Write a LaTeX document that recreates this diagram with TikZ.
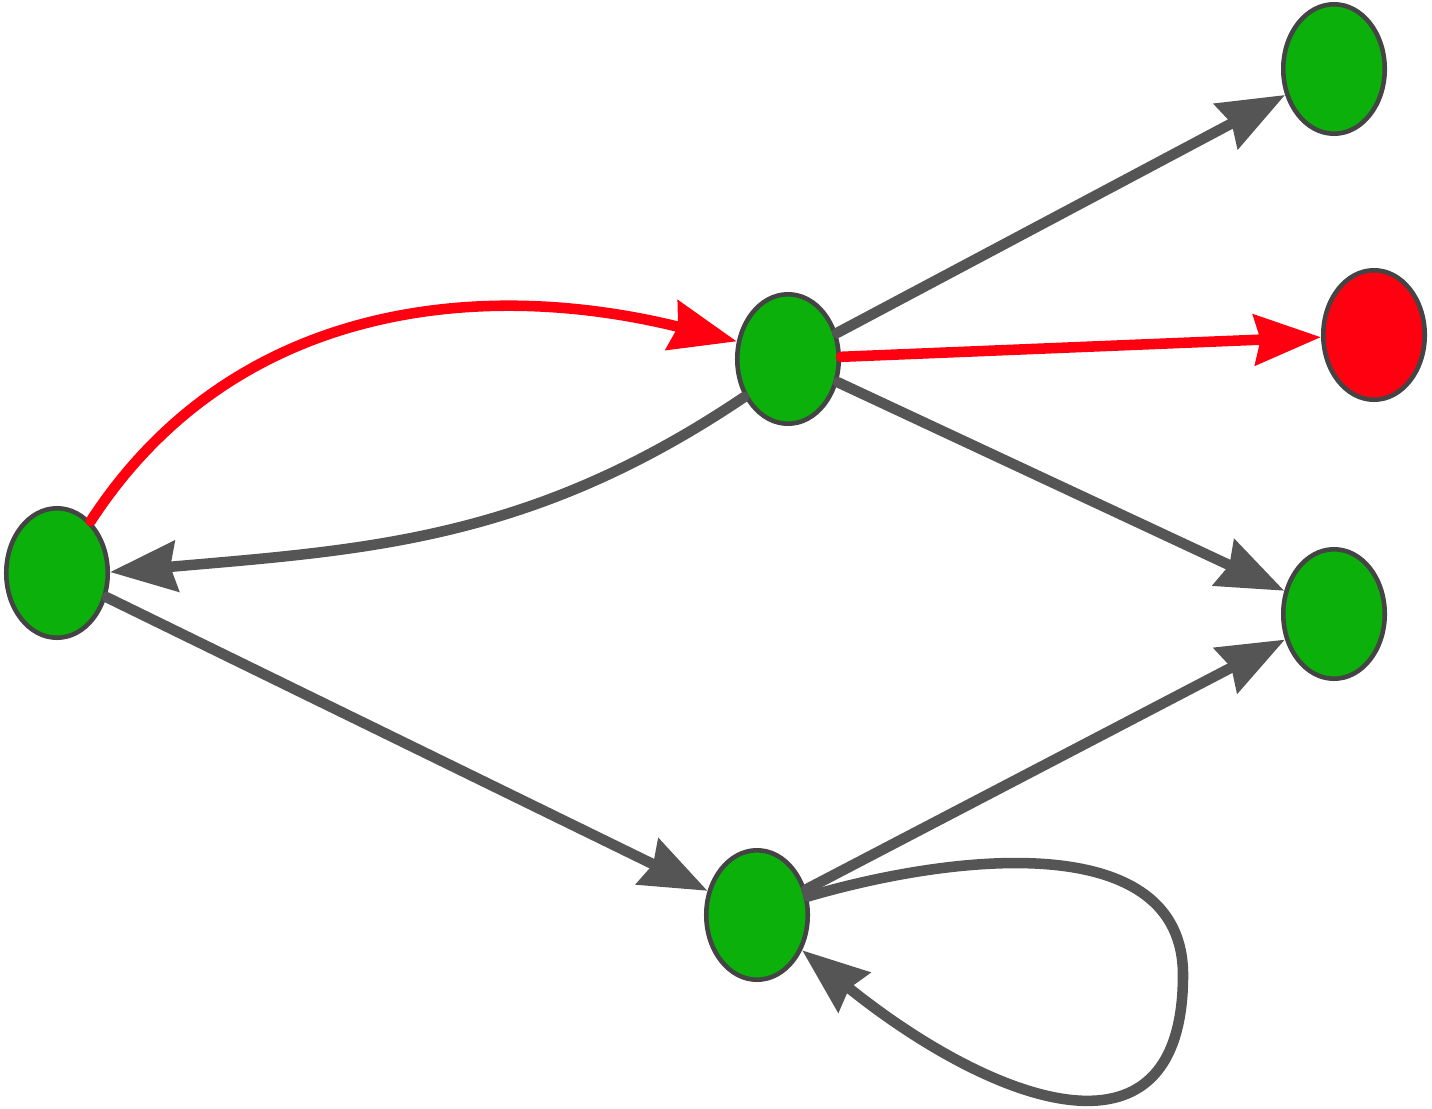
\documentclass[tikz,border=0pt]{standalone}
\usetikzlibrary{arrows.meta,shapes.geometric}
\definecolor{vgreen}{HTML}{0BB00B}
\definecolor{vred}{HTML}{FF0011}
\definecolor{egray}{HTML}{555555}
\definecolor{bgray}{HTML}{444444}
\begin{document}
\begin{tikzpicture}[x=0.02cm, y=0.02cm, line join=round, line cap=round,
	vtx/.style={ellipse, draw=bgray, line width=2.6pt, fill=vgreen, minimum width=2.03cm, minimum height=2.59cm, inner sep=0pt},
	hit/.style={vtx, fill=vred},
	edge/.style={draw=egray, line width=6pt, -{Stealth[length=1.33cm, width=1cm, inset=0.12cm]}},
	hot/.style={edge, draw=vred}]
		
		\useasboundingbox (0,0) rectangle (1432,-1108);
		
		\node[vtx] (a) at (57,-573) {};
		\node[vtx] (b) at (788,-359) {};
		\node[vtx] (c) at (1334,-69) {};
		\node[hit] (d) at (1374,-335) {};
		\node[vtx] (e) at (1334,-614) {};
		\node[vtx] (f) at (757,-915) {};
		\coordinate (loopfar) at (1183,-975);
		
		\draw[hot] (a.57) to[out=57, in=166] (b.161);
		\draw[edge] (b.221) to[out=214, in=5] (a.1);
		\draw[edge] (b) -- (c);
		\draw[hot] (b) -- (d);
		\draw[edge] (b) -- (e);
		\draw[edge] (a) -- (f);
		\draw[edge] (f) -- (e);
		\draw[edge] (f.20) .. controls (960,-852) and (1183,-830) .. (loopfar)
			.. controls (1183,-1180) and (985,-1098) .. (f.-38);
		
	\end{tikzpicture}
\end{document}
